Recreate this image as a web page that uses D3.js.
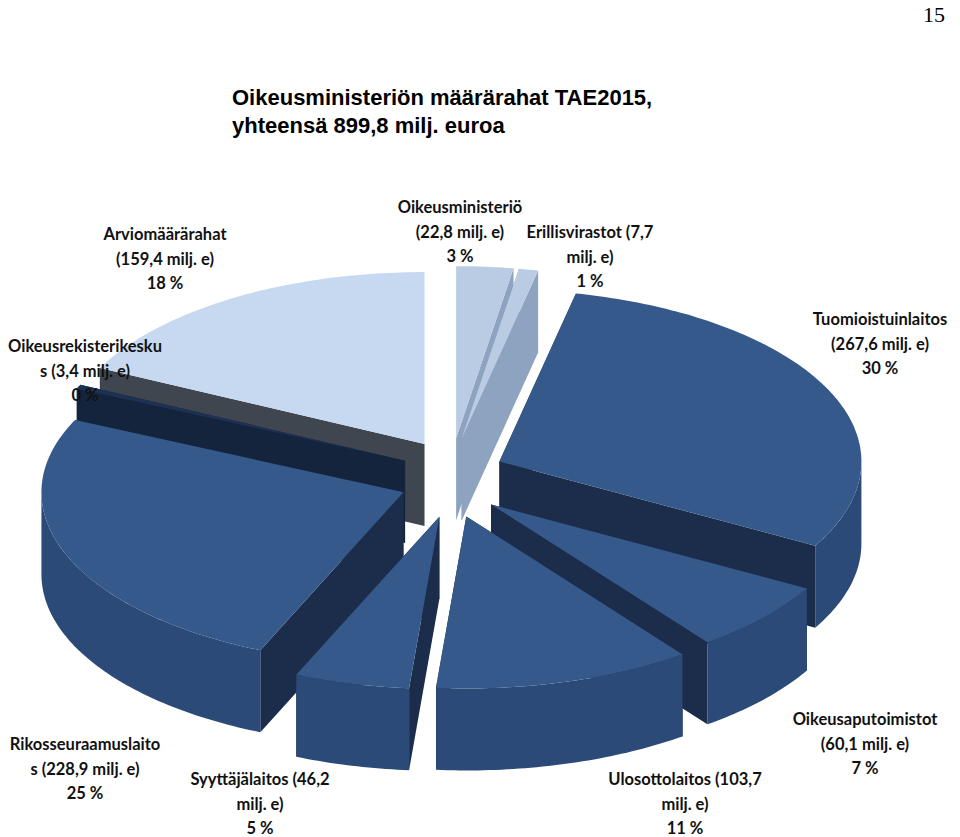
<!DOCTYPE html>
<html><head><meta charset="utf-8">
<script src="https://cdn.jsdelivr.net/npm/d3@7"></script>
<style>body{margin:0;background:#fff}</style></head>
<body><svg id="c" width="960" height="837"></svg>
<script>
const categories = ["Oikeusministeriö","Erillisvirastot","Tuomioistuinlaitos","Oikeusaputoimistot","Ulosottolaitos","Syyttäjälaitos","Rikosseuraamuslaitos","Oikeusrekisterikeskus","Arviomäärärahat"];
const values = [22.8,7.7,267.6,60.1,103.7,46.2,228.9,3.4,159.4];
const labelLines = [
 ["Oikeusministeriö","(22,8 milj. e)","3 %"],
 ["Erillisvirastot (7,7","milj. e)","1 %"],
 ["Tuomioistuinlaitos","(267,6 milj. e)","30 %"],
 ["Oikeusaputoimistot","(60,1 milj. e)","7 %"],
 ["Ulosottolaitos (103,7","milj. e)","11 %"],
 ["Syyttäjälaitos (46,2","milj. e)","5 %"],
 ["Rikosseuraamuslaito","s (228,9 milj. e)","25 %"],
 ["Oikeusrekisterikesku","s (3,4 milj. e)","0 %"],
 ["Arviomäärärahat","(159,4 milj. e)","18 %"]
];
// layout (not data)
const labelPos = [[460,213],[590,238],[880,325],[865,725],[685,785],[260,785],[85,750],[85,352],[165,240]];
const topC  = ["#b9cce4","#b9cce4","#36598c","#36598c","#36598c","#36598c","#36598c","#1d3152","#c6d9f0"];
const outC  = ["#9fb4ce","#9fb4ce","#2c4a78","#2c4a78","#2c4a78","#2c4a78","#2c4a78","#1d3152","#565e69"];
const radC  = ["#8ea3bf","#8ea3bf","#1b2d4a","#1b2d4a","#1b2d4a","#1b2d4a","#1b2d4a","#15243d","#3f4650"];

const svg = d3.select("#c");
const cx=452, cy=478, rx=362, ry=172, depth=82, ex=52, ey=40;
const pie = d3.pie().sort(null).value(d=>d)(values);
const pt=(a,r=1)=>[rx*r*Math.sin(a), -ry*r*Math.cos(a)];
const line=d3.line();
const slices = pie.map((p,i)=>{
  const m=(p.startAngle+p.endAngle)/2;
  return {i,a0:p.startAngle,a1:p.endAngle,m,dx:ex*Math.sin(m),dy:-ey*Math.cos(m)};
}).sort((a,b)=>(-Math.cos(a.m))-(-Math.cos(b.m)));
function arcPts(a0,a1,off){const n=Math.max(2,Math.ceil((a1-a0)*60));return d3.range(n+1).map(k=>{const a=a0+(a1-a0)*k/n;const q=pt(a);return [q[0],q[1]+off];});}
slices.forEach(s=>{
  const g=svg.append("g").attr("transform",`translate(${cx+s.dx},${cy+s.dy})`);
  [s.a0,s.a1].forEach(a=>{const q=pt(a);
    g.append("path").attr("d",line([[0,0],q,[q[0],q[1]+depth],[0,depth]])+"Z").attr("fill",radC[s.i]);});
  const f0=Math.max(s.a0,Math.PI/2), f1=Math.min(s.a1,3*Math.PI/2);
  if(f1>f0){const t=arcPts(f0,f1,0), b=arcPts(f0,f1,depth).reverse();
    g.append("path").attr("d",line(t.concat(b))+"Z").attr("fill",outC[s.i]);}
  g.append("path").attr("d",line([[0,0]].concat(arcPts(s.a0,s.a1,0)))+"Z").attr("fill",topC[s.i]);
});
svg.append("text").attr("x",945).attr("y",22).attr("text-anchor","end").attr("font-family","Liberation Serif").attr("font-size",22).text("15");
["Oikeusministeriön määrärahat TAE2015,","yhteensä 899,8 milj. euroa"].forEach((t,k)=>
  svg.append("text").attr("x",232).attr("y",105+k*28).attr("font-family","Liberation Sans").attr("font-weight","bold").attr("font-size",22).text(t));
labelLines.forEach((ls,i)=>ls.forEach((t,k)=>
  svg.append("text").attr("x",labelPos[i][0]).attr("y",labelPos[i][1]+k*24.5).attr("text-anchor","middle")
   .attr("font-family","Lato").attr("font-weight","bold").attr("font-size",16.5).attr("fill","#111").text(t)));
</script></body></html>
